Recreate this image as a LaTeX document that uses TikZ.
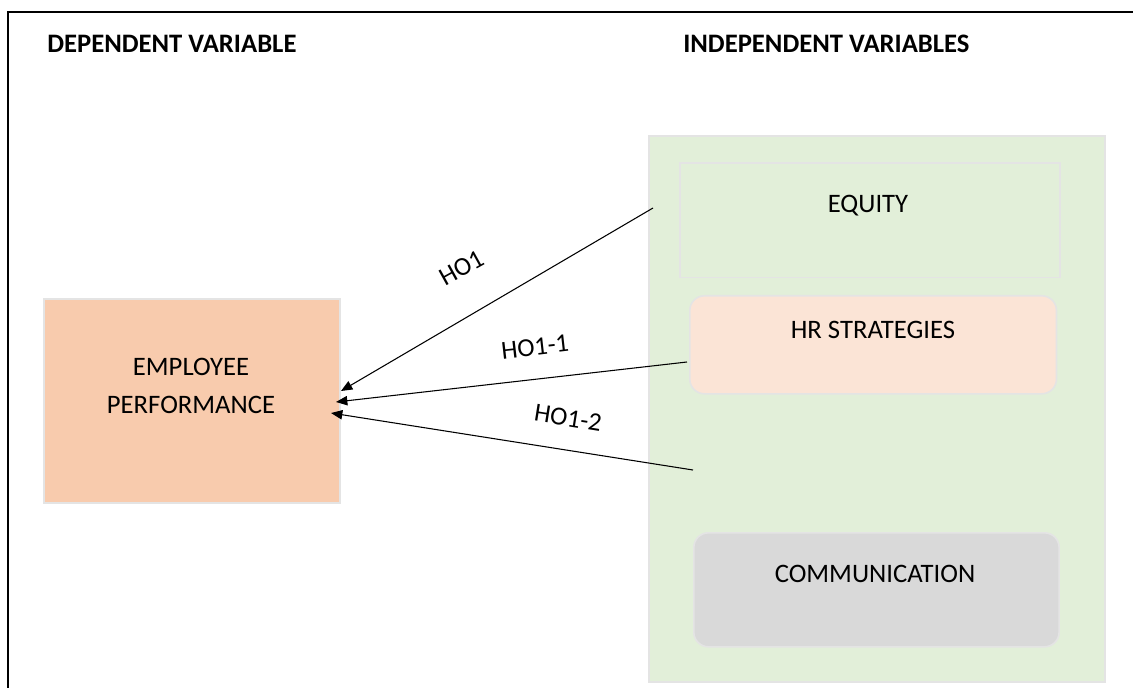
\documentclass[tikz,border=0pt]{standalone}
\usepackage{fontspec}
\setmainfont{Carlito}
\usetikzlibrary{arrows.meta,calc}

\definecolor{panelgreen}{HTML}{E2EFD9}
\definecolor{edgegray}{HTML}{E4E4E4}
\definecolor{salmon}{HTML}{F8CBAD}
\definecolor{palesalmon}{HTML}{FBE4D6}
\definecolor{softgray}{HTML}{D9D9D9}

\tikzset{
  heading/.style={font=\fontsize{20}{24}\selectfont\bfseries, anchor=west, inner sep=0pt},
  boxtext/.style={font=\fontsize{20}{28}\selectfont, inner sep=0pt, align=center},
  hyplabel/.style={font=\fontsize{19.5}{22}\selectfont, inner sep=0pt},
  flatbox/.style={draw=edgegray, line width=1.2pt, anchor=north west, inner sep=0pt},
  roundbox/.style={flatbox, rounded corners=11pt},
  link/.style={line width=0.8pt, -{Triangle[length=8.5pt,width=7pt]}},
}

\begin{document}
\begin{tikzpicture}[x=0.75pt,y=-0.75pt]
  \useasboundingbox (0,0) rectangle (1133,688);
  \clip (0,0) rectangle (1133,688);

  % outer frame
  \draw[line width=1.9pt] (8,720) -- (8,12) -- (1160,12);

  % column headings
  \node[heading] (hdep) at (47,44) {DEPENDENT VARIABLE};
  \node[heading] (hind) at (683,44) {INDEPENDENT VARIABLES};

  % independent variable panel
  \node[flatbox, fill=panelgreen, minimum width=342pt, minimum height=409.5pt] (panel) at (648,135) {};
  \node[flatbox, fill=panelgreen, minimum width=285pt, minimum height=86pt] (equity) at (679,162) {};
  \node[boxtext] (equitytxt) at (868,206) {EQUITY};
  \node[roundbox, fill=palesalmon, minimum width=275pt, minimum height=73.5pt] (hr) at (689,295) {};
  \node[boxtext] (hrtxt) at (873,330) {HR STRATEGIES};
  \node[roundbox, fill=softgray, minimum width=274pt, minimum height=85.5pt] (comm) at (693,532) {};
  \node[boxtext] (commtxt) at (875,574) {COMMUNICATION};

  % dependent variable
  \node[flatbox, fill=salmon, minimum width=222pt, minimum height=153pt] (emp) at (43,298) {};
  \node[boxtext] (emptxt) at (191,386) {EMPLOYEE\\PERFORMANCE};

  % connector end points
  \coordinate (s1) at (653,208);
  \coordinate (s2) at (687,362);
  \coordinate (s3) at (693,470);
  \coordinate (t1) at (341,391);
  \coordinate (t2) at (336,402);
  \coordinate (t3) at (331,413);

  \draw[link] (s1) -- (t1);
  \draw[link] (s2) -- (t2);
  \draw[link] (s3) -- (t3);

  % hypothesis labels
  \node[hyplabel, rotate=29] (l1) at (462,268) {HO1};
  \node[hyplabel, rotate=6.5] (l2) at (535,347) {HO1-1};
  \node[hyplabel, rotate=-9] (l3) at (568,418) {HO1-2};
\end{tikzpicture}
\end{document}
